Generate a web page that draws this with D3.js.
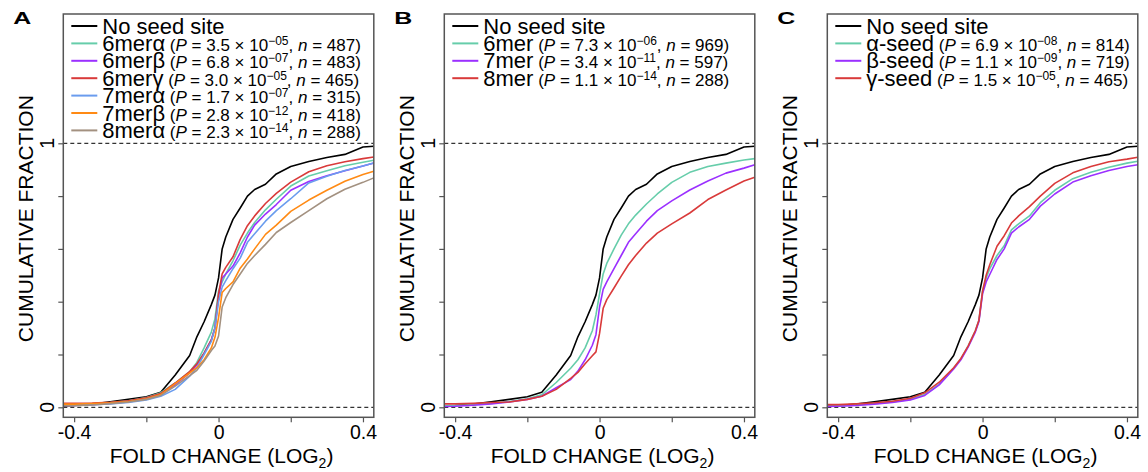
<!DOCTYPE html>
<head>
  <meta charset="utf-8">
  <style>
    body { margin: 0; background: #fff; }
    svg text { font-family: "Liberation Sans", Arial, sans-serif; fill: #000; }
    svg .box { fill: none; stroke: #555; stroke-width: 1.5px; }
    svg .ref { stroke: #000; stroke-width: 1px; stroke-dasharray: 4 3; }
    svg .curve { fill: none; stroke-width: 1.6px; stroke-linejoin: round; }
    svg .tick line { stroke: #555; stroke-width: 1.2px; }
  </style>
</head>

<body>
<script src="https://cdn.jsdelivr.net/npm/d3@7"></script>

<script>
  // shared x grid (log2 fold change) that every curve was read at
  var foldChange = [-0.43, -0.4, -0.35, -0.3, -0.25, -0.2, -0.16, -0.12, -0.08, -0.06, -0.04, -0.02, -0.01,
                    0, 0.01, 0.02, 0.04, 0.06, 0.08, 0.1, 0.13, 0.16, 0.2, 0.25, 0.3, 0.35, 0.4, 0.43];

  // no seed site (same in every panel)
  var noSeed    = [0.005, 0.007, 0.012, 0.021, 0.030, 0.040, 0.057, 0.122, 0.196, 0.267, 0.324, 0.389, 0.425,
                   0.49, 0.60, 0.645, 0.712, 0.755, 0.800, 0.825, 0.845, 0.884, 0.912, 0.931, 0.946, 0.958, 0.986, 0.989];

  // panel A
  var mer6Alpha = [0.010, 0.010, 0.013, 0.018, 0.025, 0.037, 0.055, 0.092, 0.135, 0.170, 0.225, 0.285, 0.335,
                   0.44, 0.475, 0.505, 0.555, 0.614, 0.660, 0.700, 0.748, 0.788, 0.838, 0.876, 0.896, 0.915, 0.928, 0.936];
  var mer6Beta  = [0.007, 0.007, 0.010, 0.015, 0.022, 0.033, 0.050, 0.085, 0.130, 0.160, 0.205, 0.255, 0.300,
                   0.42, 0.49, 0.505, 0.535, 0.585, 0.645, 0.690, 0.732, 0.768, 0.822, 0.855, 0.877, 0.896, 0.914, 0.925];
  var mer6Gamma = [0.015, 0.015, 0.016, 0.019, 0.025, 0.036, 0.052, 0.092, 0.135, 0.165, 0.205, 0.255, 0.300,
                   0.43, 0.505, 0.530, 0.570, 0.636, 0.688, 0.725, 0.772, 0.810, 0.853, 0.892, 0.915, 0.930, 0.942, 0.948];
  var mer7Alpha = [0.008, 0.008, 0.010, 0.013, 0.018, 0.028, 0.042, 0.068, 0.118, 0.150, 0.200, 0.250, 0.300,
                   0.40, 0.455, 0.480, 0.525, 0.565, 0.625, 0.657, 0.705, 0.745, 0.790, 0.850, 0.875, 0.897, 0.914, 0.925];
  var mer7Beta  = [0.012, 0.012, 0.014, 0.017, 0.022, 0.032, 0.048, 0.090, 0.130, 0.150, 0.180, 0.225, 0.265,
                   0.34, 0.435, 0.450, 0.475, 0.527, 0.562, 0.600, 0.655, 0.690, 0.742, 0.785, 0.822, 0.856, 0.882, 0.894];
  var mer8Alpha = [0.006, 0.006, 0.009, 0.014, 0.020, 0.030, 0.045, 0.080, 0.120, 0.140, 0.175, 0.215, 0.232,
                   0.27, 0.38, 0.415, 0.465, 0.505, 0.545, 0.575, 0.617, 0.662, 0.700, 0.745, 0.790, 0.826, 0.852, 0.869];

  // panel B
  var mer6 = [0.006, 0.007, 0.010, 0.015, 0.022, 0.032, 0.047, 0.094, 0.148, 0.180, 0.225, 0.290, 0.350,
              0.43, 0.505, 0.545, 0.600, 0.652, 0.695, 0.728, 0.770, 0.808, 0.852, 0.890, 0.912, 0.925, 0.937, 0.942];
  var mer7 = [0.003, 0.004, 0.008, 0.013, 0.020, 0.030, 0.042, 0.074, 0.105, 0.137, 0.180, 0.235, 0.275,
              0.38, 0.447, 0.475, 0.525, 0.575, 0.625, 0.657, 0.705, 0.745, 0.782, 0.823, 0.857, 0.887, 0.906, 0.919];
  var mer8 = [0.013, 0.013, 0.015, 0.018, 0.020, 0.030, 0.042, 0.068, 0.110, 0.132, 0.165, 0.195, 0.210,
              0.28, 0.375, 0.408, 0.452, 0.497, 0.540, 0.575, 0.622, 0.660, 0.695, 0.736, 0.787, 0.823, 0.857, 0.871];

  // panel C
  var seedAlpha = [0.005, 0.006, 0.009, 0.014, 0.020, 0.030, 0.048, 0.088, 0.148, 0.183, 0.232, 0.290, 0.330,
                   0.44, 0.49, 0.525, 0.575, 0.612, 0.672, 0.695, 0.725, 0.775, 0.822, 0.866, 0.890, 0.909, 0.925, 0.932];
  var seedBeta  = [0.003, 0.004, 0.007, 0.012, 0.018, 0.028, 0.045, 0.085, 0.145, 0.180, 0.228, 0.285, 0.325,
                   0.43, 0.475, 0.503, 0.560, 0.600, 0.660, 0.683, 0.712, 0.762, 0.808, 0.853, 0.877, 0.897, 0.912, 0.919];
  var seedGamma = [0.010, 0.010, 0.013, 0.017, 0.023, 0.034, 0.055, 0.095, 0.150, 0.185, 0.232, 0.290, 0.330,
                   0.44, 0.50, 0.540, 0.610, 0.650, 0.698, 0.725, 0.760, 0.800, 0.848, 0.888, 0.912, 0.930, 0.940, 0.947];

  // legend text
  var namesA = ["6mer\u03b1", "6mer\u03b2", "6mer\u03b3", "7mer\u03b1", "7mer\u03b2", "8mer\u03b1"];
  var pManA  = ["3.5", "6.8", "3.0", "1.7", "2.8", "2.3"];
  var pExpA  = ["\u221205", "\u221207", "\u221205", "\u221207", "\u221212", "\u221214"];
  var nA     = [487, 483, 465, 315, 418, 288];

  var namesB = ["6mer", "7mer", "8mer"];
  var pManB  = ["7.3", "3.4", "1.1"];
  var pExpB  = ["\u221206", "\u221211", "\u221214"];
  var nB     = [969, 597, 288];

  var namesC = ["\u03b1-seed", "\u03b2-seed", "\u03b3-seed"];
  var pManC  = ["6.9", "1.1", "1.5"];
  var pExpC  = ["\u221208", "\u221209", "\u221205"];
  var nC     = [814, 719, 465];

  var xTicks = [-0.4, -0.2, 0, 0.2, 0.4];
  var yTicks = [0, 0.2, 0.4, 0.6, 0.8, 1];

  var teal = "#66cdaa", purple = "#9b30ff", red = "#d93a3a",
      blue = "#6a9cee", orange = "#ff8a14", brown = "#a39180";

  var panels = [
    { letter: "A", left: 63.3, names: namesA, pMan: pManA, pExp: pExpA, n: nA,
      series: [mer6Alpha, mer6Beta, mer6Gamma, mer7Alpha, mer7Beta, mer8Alpha],
      colors: [teal, purple, red, blue, orange, brown] },
    { letter: "B", left: 444.3, names: namesB, pMan: pManB, pExp: pExpB, n: nB,
      series: [mer6, mer7, mer8], colors: [teal, purple, red] },
    { letter: "C", left: 827.3, names: namesC, pMan: pManC, pExp: pExpC, n: nC,
      series: [seedAlpha, seedBeta, seedGamma], colors: [teal, purple, red] }
  ];

  var boxWidth = 310.5,
      boxTop = 14,
      boxBottom = 417.3;

  var svg = d3.select("body")
    .append("svg")
      .attr("width", 1148)
      .attr("height", 472);

  var yScale = d3.scaleLinear().domain([0, 1]).range([407.3, 143.3]);

  panels.forEach(function (p) {
    var g = svg.append("g");
    var xScale = d3.scaleLinear().domain([-0.43, 0.43]).range([p.left, p.left + boxWidth]);

    // dashed reference lines at 0 and 1
    [0, 1].forEach(function (v) {
      g.append("line")
          .classed("ref", true)
          .attr("x1", p.left).attr("x2", p.left + boxWidth)
          .attr("y1", yScale(v)).attr("y2", yScale(v));
    });

    // curves: no seed site first, then the site types
    var line = d3.line()
      .x(function (d, i) { return xScale(foldChange[i]); })
      .y(function (d) { return yScale(d); });

    g.append("path")
        .classed("curve", true)
        .attr("d", line(noSeed))
        .style("stroke", "#000");

    p.series.forEach(function (s, i) {
      g.append("path")
          .classed("curve", true)
          .attr("d", line(s))
          .style("stroke", p.colors[i]);
    });

    // box
    g.append("rect")
        .classed("box", true)
        .attr("x", p.left).attr("y", boxTop)
        .attr("width", boxWidth).attr("height", boxBottom - boxTop);

    // x axis
    var xAxis = d3.axisBottom(xScale)
      .tickValues(xTicks)
      .tickSize(5)
      .tickPadding(3)
      .tickFormat(function (d) {
        if (d === 0) return "0";
        if (Math.abs(d) === 0.4) return (d < 0 ? "-" : "") + "0.4";
        return "";
      });

    var xa = g.append("g")
        .attr("transform", "translate(0," + boxBottom + ")")
        .call(xAxis);
    xa.select(".domain").remove();
    xa.selectAll(".tick text")
        .style("font-size", "19.5px")
        .style("font-family", "Liberation Sans, Arial, sans-serif")
        .attr("fill", "#000");

    g.append("text")
        .attr("x", p.left + boxWidth / 2 + 3)
        .attr("y", 463)
        .style("text-anchor", "middle")
        .style("font-size", "21px")
        .text("FOLD CHANGE (LOG")
      .append("tspan")
        .attr("dy", 5)
        .style("font-size", "14px")
        .text("2")
      .select(function () { return this.parentNode; })
      .append("tspan")
        .attr("dy", -5)
        .text(")");

    // y axis
    var yAxis = d3.axisLeft(yScale)
      .tickValues(yTicks)
      .tickSize(5)
      .tickFormat("");

    var ya = g.append("g")
        .attr("transform", "translate(" + p.left + ",0)")
        .call(yAxis);
    ya.select(".domain").remove();

    [0, 1].forEach(function (v) {
      g.append("text")
          .attr("transform", "translate(" + (p.left - 9) + "," + yScale(v) + ") rotate(-90)")
          .style("text-anchor", "middle")
          .style("font-size", "19.5px")
          .text(String(v));
    });

    g.append("text")
        .attr("transform", "translate(" + (p.left - 30) + "," + ((boxTop + boxBottom) / 2 + 3) + ") rotate(-90)")
        .style("text-anchor", "middle")
        .style("font-size", "21px")
        .text("CUMULATIVE FRACTION");

    // panel letter
    g.append("text")
        .attr("x", p.left - 50)
        .attr("y", 24)
        .style("font-size", "17px")
        .style("font-weight", "bold")
        .attr("textLength", 18)
        .attr("lengthAdjust", "spacingAndGlyphs")
        .text(p.letter);

    // legend
    var rowStep = 17.4, rowY = 26;
    var legendNames = ["No seed site"].concat(p.names);
    var legendColors = ["#000"].concat(p.colors);

    legendNames.forEach(function (name, i) {
      var y = rowY + i * rowStep;
      g.append("line")
          .attr("x1", p.left + 8).attr("x2", p.left + 34)
          .attr("y1", y).attr("y2", y)
          .style("stroke", legendColors[i])
          .style("stroke-width", "2px");

      var t = g.append("text")
          .attr("x", p.left + 39)
          .attr("y", y + 7.5)
          .style("font-size", "22px");
      t.append("tspan").text(name);
      if (i === 0) return;
      var k = i - 1;
      t.append("tspan").style("font-size", "17px").text(" (");
      t.append("tspan").style("font-size", "17px").style("font-style", "italic").text("P");
      t.append("tspan").style("font-size", "17px").text(" = " + p.pMan[k] + " \u00d7 10");
      t.append("tspan").style("font-size", "12px").attr("dy", -6).text(p.pExp[k]);
      t.append("tspan").style("font-size", "17px").attr("dy", 6).text(", ");
      t.append("tspan").style("font-size", "17px").style("font-style", "italic").text("n");
      t.append("tspan").style("font-size", "17px").text(" = " + p.n[k] + ")");
    });
  });
</script>
</body>
</html>
